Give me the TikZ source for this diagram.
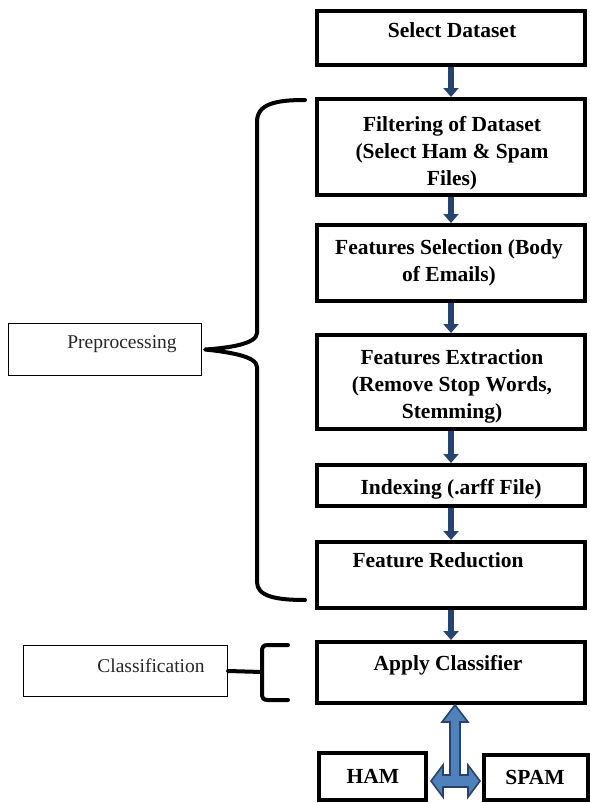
\documentclass[tikz,border=0pt]{standalone}
\usepackage{fontspec}
\setmainfont{Liberation Serif}
\usetikzlibrary{arrows.meta}
\definecolor{arrowblue}{RGB}{38,68,112}
\definecolor{fillblue}{RGB}{79,129,189}
\definecolor{edgeblue}{RGB}{40,66,105}
\begin{document}
\begin{tikzpicture}[x=1pt,y=-1pt,
  box/.style={draw=black, line width=4pt, minimum width=268pt, inner sep=0pt},
  smallbox/.style={draw=black, line width=4pt, inner sep=0pt},
  lbl/.style={font=\bfseries\fontsize{21.5}{27}\selectfont, align=center, inner sep=0pt, text=black},
  side/.style={draw=black, line width=1.2pt, inner sep=0pt},
  sidelbl/.style={font=\fontsize{19.5}{23}\selectfont, inner sep=0pt, text=black!85},
  flow/.style={draw=arrowblue, line width=6pt, -{Triangle[width=15pt,length=9pt]}},
  bracestyle/.style={draw=black, line width=4pt, line cap=round, line join=round},
  dblarrow/.style={draw=edgeblue, fill=fillblue, line width=1.6pt, line join=miter}]
\useasboundingbox[fill=white] (0,0) rectangle (589,803);

% main boxes
\node[box, minimum height=54pt] (sel) at (451,38) {};
\node[box, minimum height=96pt] (filt) at (451,147) {};
\node[box, minimum height=76pt] (fsel) at (451,263) {};
\node[box, minimum height=94pt] (fext) at (451,382) {};
\node[box, minimum height=41pt] (idx) at (451,485.5) {};
\node[box, minimum height=66pt] (fred) at (451,575) {};
\node[box, minimum height=61pt] (apply) at (451,672.5) {};
\node[smallbox, minimum width=107pt, minimum height=47pt] (ham) at (372.5,776.5) {};
\node[smallbox, minimum width=104pt, minimum height=45pt] (spam) at (536,777.5) {};

% box texts
\node[lbl] (selT) at (452,30) {Select Dataset};
\node[lbl] (filtT) at (452,153.5) {Filtering of Dataset\\(Select Ham \& Spam\\Files)};
\node[lbl] (fselT) at (449,262.5) {Features Selection (Body\\of Emails)};
\node[lbl] (fextT) at (452,386.5) {Features Extraction\\(Remove Stop Words,\\Stemming)};
\node[lbl, anchor=base] (idxT) at (451,494) {Indexing (.arff File)};
\node[lbl, anchor=base] (fredT) at (438,567) {Feature Reduction};
\node[lbl, anchor=base] (applyT) at (448,670) {Apply Classifier};
\node[lbl, anchor=base] (hamT) at (373,783) {HAM};
\node[lbl, anchor=base] (spamT) at (535,784) {SPAM};

% flow arrows
\draw[flow] (sel.south) -- (filt.north);
\draw[flow] (filt.south) -- (fsel.north);
\draw[flow] (fsel.south) -- (fext.north);
\draw[flow] (fext.south) -- (idx.north);
\draw[flow] (idx.south) -- (fred.north);
\draw[flow] (fred.south) -- (apply.north);

% double arrow to HAM / SPAM
\draw[dblarrow, shift={(apply.south)}, xshift=4pt]
  (0,0) -- (13,17) -- (5,17) -- (5,70) -- (13,70) -- (13,60) -- (25,76)
  -- (13,92) -- (13,82) -- (-12,82) -- (-12,92) -- (-24,76) -- (-12,60)
  -- (-12,70) -- (-5,70) -- (-5,17) -- (-13,17) -- cycle;

% side labels
\node[side, minimum width=193pt, minimum height=52pt] (pre) at (105,349.5) {};
\node[sidelbl, anchor=base] (preT) at (122,348) {Preprocessing};
\node[side, minimum width=204pt, minimum height=51pt] (cls) at (125.5,671) {};
\node[sidelbl, anchor=base] (clsT) at (151,672) {Classification};

% brace for preprocessing
\draw[bracestyle] (305,100) .. controls (275,100) and (257,104) .. (257,122)
  -- (257,333) .. controls (257,344) and (228,348) .. ([xshift=3pt]pre.east)
  .. controls (228,352) and (257,356) .. (257,367)
  -- (257,582) .. controls (257,596) and (275,600) .. (305,600);

% bracket for classification
\draw[bracestyle] (288,645) -- (268,645) .. controls (263,645) and (262,647) .. (262,652)
  -- (262,693) .. controls (262,698) and (263,700) .. (268,700) -- (288,700);
\draw[bracestyle] (cls.east) -- (262,672);
\end{tikzpicture}
\end{document}
